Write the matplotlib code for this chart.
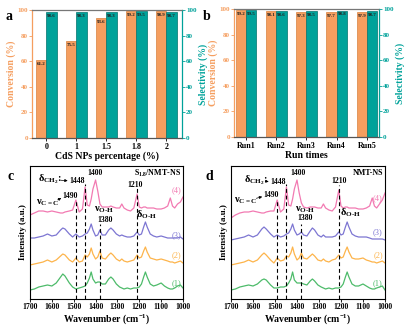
import matplotlib
matplotlib.use("Agg")
import matplotlib.pyplot as plt
import numpy as np

plt.rcParams['font.family'] = ['Liberation Serif', 'DejaVu Serif']
plt.rcParams['font.weight'] = 'bold'
plt.rcParams['mathtext.fontset'] = 'custom'
plt.rcParams['mathtext.rm'] = 'Liberation Serif:bold'
plt.rcParams['mathtext.it'] = 'Liberation Serif:bold'
plt.rcParams['mathtext.bf'] = 'Liberation Serif:bold'

# ---- bar chart data ----
cds_labels = ['0', '1', '1.5', '1.8', '2']
cds_conversion = [61.2, 75.5, 93.6, 99.2, 98.9]
cds_selectivity = [98.6, 98.3, 98.3, 99.5, 98.7]

run_labels = ['Run1', 'Run2', 'Run3', 'Run4', 'Run5']
run_conversion = [99.2, 98.1, 97.3, 97.7, 97.9]
run_selectivity = [99.5, 98.6, 98.5, 98.8, 98.7]

# ---- in situ IR spectra (offset traces) ----
wn = [1700, 1680, 1660, 1640, 1620, 1600, 1580, 1560, 1550, 1540, 1520, 1505,
      1490, 1475, 1460, 1448, 1438, 1428, 1420, 1412, 1400, 1390, 1380, 1370,
      1355, 1340, 1330, 1320, 1305, 1290, 1280, 1270, 1255, 1240, 1225, 1210,
      1200, 1190, 1180, 1172, 1164, 1150, 1135, 1120, 1100, 1085, 1070, 1058,
      1048, 1038, 1025, 1012, 1000]

c_trace1 = [9, 10, 12, 13, 14, 13, 16, 22, 25, 23, 16, 12, 10, 11, 12, 13, 16, 21,
            27, 20, 16, 17, 17, 15, 15, 20, 22, 20, 15, 12, 11, 10, 11, 10, 11, 11,
            12, 15, 22, 27, 22, 15, 13, 14, 16, 13, 11, 10, 10, 11, 13, 14, 11]
c_trace2 = [34, 35, 36, 37, 39, 37, 39, 43, 45, 44, 39, 37, 41, 37, 38, 44, 42, 45,
            51, 45, 40, 42, 48, 41, 40, 44, 46, 44, 40, 38, 40, 38, 37, 38, 39, 44,
            41, 42, 48, 52, 47, 41, 40, 39, 40, 39, 38, 37, 37, 36, 37, 38, 36]
c_trace3 = [61, 61, 62, 63, 65, 63, 64, 69, 71, 70, 65, 62, 65, 62, 63, 65, 66, 70,
            75, 69, 63, 64, 69, 64, 64, 69, 71, 69, 65, 63, 64, 63, 62, 62, 63, 67,
            64, 65, 72, 77, 72, 65, 63, 62, 63, 62, 61, 61, 61, 61, 61, 62, 60]
c_trace4 = [84, 86, 88, 88, 87, 88, 87, 86, 86, 87, 88, 89, 99, 87, 90, 112, 94, 93,
            100, 110, 119, 108, 95, 92, 92, 92, 93, 92, 91, 91, 95, 91, 89, 88, 91, 105,
            92, 91, 92, 92, 91, 91, 91, 90, 90, 91, 93, 101, 93, 91, 95, 97, 102]

d_trace1 = [9, 10, 12, 13, 14, 13, 15, 19, 20, 19, 14, 11, 11, 12, 12, 13, 16, 20,
            27, 19, 16, 16, 16, 15, 14, 18, 20, 18, 14, 12, 11, 10, 11, 10, 11, 11,
            12, 15, 22, 27, 22, 15, 13, 13, 15, 13, 11, 10, 10, 11, 12, 13, 9]
d_trace2 = [34, 35, 36, 37, 39, 37, 39, 44, 46, 44, 39, 36, 41, 38, 39, 43, 42, 46,
            52, 45, 39, 41, 46, 41, 40, 43, 45, 43, 39, 38, 40, 38, 37, 39, 40, 44,
            41, 42, 48, 52, 47, 41, 40, 40, 41, 39, 38, 37, 37, 36, 37, 38, 36]
d_trace3 = [59, 60, 61, 62, 64, 62, 64, 70, 72, 70, 65, 62, 64, 62, 63, 65, 66, 70,
            75, 69, 64, 65, 67, 64, 63, 68, 71, 69, 64, 62, 64, 62, 62, 62, 63, 67,
            64, 65, 72, 77, 72, 65, 63, 62, 62, 62, 61, 60, 60, 60, 60, 60, 59]
d_trace4 = [81, 84, 86, 87, 87, 88, 87, 86, 86, 87, 88, 88, 99, 87, 90, 112, 94, 93,
            100, 110, 119, 106, 96, 92, 91, 92, 92, 92, 91, 91, 95, 91, 89, 88, 92, 109,
            93, 91, 92, 92, 91, 91, 91, 90, 90, 91, 93, 101, 93, 91, 95, 99, 106]

marker_bands = [1490, 1448, 1380, 1210]

ORANGE = '#F59E5F'
ORANGE_EDGE = '#D9813F'
TEAL = '#00A29A'
TEAL_EDGE = '#00726C'
TRACE_COLORS = ['#4DBB6A', '#FDB44B', '#7D76D2', '#F27AB2']

W, H = 412, 326
fig = plt.figure(figsize=(W / 100, H / 100), dpi=100)


def fig_rect(l, t, r, b):
    return [l / W, 1 - b / H, (r - l) / W, (b - t) / H]


def bar_panel(rect, labels, conv, sel, xlabel, letter, lpos, xlim):
    ax = fig.add_axes(rect)
    x = np.arange(len(labels))
    bw = 0.34
    b1 = ax.bar(x - bw / 2, conv, bw, color=ORANGE, edgecolor=ORANGE_EDGE, lw=0.5, zorder=2)
    b2 = ax.bar(x + bw / 2, sel, bw, color=TEAL, edgecolor=TEAL_EDGE, lw=0.5, zorder=2)
    for bars, vals in ((b1, conv), (b2, sel)):
        for bar, v in zip(bars, vals):
            ax.text(bar.get_x() + bar.get_width() / 2, v - 1.5, f'{v}', ha='center',
                    va='top', fontsize=3.6, color='#222222', zorder=3)
    ax.set_ylim(0, 100)
    ax.set_xlim(*xlim)
    ax.set_xticks(x)
    ax.set_xticklabels(labels, fontsize=5.8, fontweight='bold')
    ax.set_yticks(np.arange(0, 101, 20))
    ax.tick_params(axis='y', colors=ORANGE, labelsize=5, length=2, width=0.6, pad=1)
    ax.tick_params(axis='x', length=2, width=0.6, pad=1.5)
    for t in ax.get_yticklabels():
        t.set_fontweight('bold')
    ax.set_xlabel(xlabel, fontsize=7, fontweight='bold', labelpad=0.5)
    ax.set_ylabel('Conversion (%)', fontsize=7, fontweight='bold', color=ORANGE, labelpad=1)
    ax.spines['left'].set_color(ORANGE)
    ax.spines['right'].set_color(TEAL)
    ax.spines['top'].set_color('#777777')
    ax.spines['bottom'].set_color('#555555')
    for s in ax.spines.values():
        s.set_linewidth(0.9)
    ax2 = ax.twinx()
    ax2.set_ylim(0, 100)
    ax2.set_yticks(np.arange(0, 101, 20))
    ax2.tick_params(axis='y', colors=TEAL, labelsize=5, length=2, width=0.6, pad=1)
    for t in ax2.get_yticklabels():
        t.set_fontweight('bold')
    ax2.set_ylabel('Selectivity (%)', fontsize=7, fontweight='bold', color=TEAL, labelpad=1)
    for s in ax2.spines.values():
        s.set_visible(False)
    fig.text(lpos[0] / W, 1 - lpos[1] / H, letter, fontsize=10, fontweight='bold',
             ha='left', va='center')
    return ax


bar_panel(fig_rect(32, 10, 182, 138), cds_labels, cds_conversion, cds_selectivity,
          'CdS NPs percentage (%)', 'a', (6, 17), (-0.48, 4.52))
bar_panel(fig_rect(234, 9, 379, 137), run_labels, run_conversion, run_selectivity,
          'Run times', 'b', (203, 17), (-0.4, 4.4))


def spectra_panel(rect, traces, tags, letter, lpos, title, title_right):
    ax = fig.add_axes(rect)
    for tr, col in zip(traces, TRACE_COLORS):
        ax.plot(wn, tr, color=col, lw=0.9)
    ax.set_xlim(1700, 1000)
    ax.set_ylim(0, 133)
    ax.set_xticks(np.arange(1700, 999, -100))
    ax.set_yticks([])
    ax.tick_params(axis='x', labelsize=5.6, length=2, width=0.6, pad=1)
    for t in ax.get_xticklabels():
        t.set_fontweight('bold')
    ax.set_xlabel('Wavenumber (cm$^{-1}$)', fontsize=7, fontweight='bold', labelpad=0.5)
    ax.set_ylabel('Intensity (a.u.)', fontsize=6.5, fontweight='bold', labelpad=2)
    for s in ax.spines.values():
        s.set_linewidth(0.8)
    tops = tags['tops']
    for band, top in zip(marker_bands, tops):
        ax.vlines(band, 0, top, colors='k', linestyles=(0, (3.5, 2.5)), lw=0.8)
    fs = 5.6
    for key, txt, big in (('d_ch2', r'$\delta_{\mathrm{CH_2}}$:', 7.5),
                          ('v_cc', r'$\nu_{\mathrm{C=C}}$', 7.5),
                          ('v_oh', r'$\nu_{\mathrm{O}\text{-}\mathrm{H}}$', 7.5),
                          ('d_oh', r'$\delta_{\mathrm{O}\text{-}\mathrm{H}}$', 7.5),
                          ('t1448', '1448', fs), ('t1400', '1400', fs),
                          ('t1490', '1490', fs), ('t1380', '1380', fs),
                          ('t1210', '1210', fs)):
        px, py = tags[key]
        ax.text(px, py, txt, fontsize=big, fontweight='bold', ha='center', va='center')
    ax.annotate('', xy=tags['arr1'][1], xytext=tags['arr1'][0],
                arrowprops=dict(arrowstyle='-|>', lw=0.5, color='k', mutation_scale=4))
    ax.annotate('', xy=tags['arr2'][1], xytext=tags['arr2'][0],
                arrowprops=dict(arrowstyle='-|>', lw=0.5, color='k', mutation_scale=4))
    ax.text(title_right, 126, title, fontsize=5.8, fontweight='bold', ha='right', va='center')
    for (py, lab), col in zip(tags['nums'], TRACE_COLORS):
        ax.text(tags['num_x'], py, lab, fontsize=6, color=col, ha='center', va='center',
                fontweight='normal')
    fig.text(lpos[0] / W, 1 - lpos[1] / H, letter, fontsize=10, fontweight='bold',
             ha='left', va='center')


spectra_panel(fig_rect(30, 166, 183, 299), [c_trace1, c_trace2, c_trace3, c_trace4],
              dict(tops=[98, 115, 75, 111],
                   d_ch2=(1608, 120), t1448=(1484, 118), t1400=(1403, 126),
                   t1490=(1517, 103), v_cc=(1622, 96), v_oh=(1361, 89),
                   t1380=(1357, 79), t1210=(1220, 114), d_oh=(1165, 84),
                   arr1=((1572, 119), (1515, 118)), arr2=((1585, 98), (1545, 102)),
                   nums=[(16, '(1)'), (44, '(2)'), (64, '(3)'), (109, '(4)')],
                   num_x=1032),
              'c', (7, 177), r'S$_{\mathrm{1.8}}$/NMT-NS', 1009)

spectra_panel(fig_rect(231, 166, 385, 299), [d_trace1, d_trace2, d_trace3, d_trace4],
              dict(tops=[98, 115, 75, 114],
                   d_ch2=(1586, 119), t1448=(1486, 117), t1400=(1395, 126),
                   t1490=(1518, 104), v_cc=(1632, 98), v_oh=(1364, 89),
                   t1380=(1364, 81), t1210=(1209, 118), d_oh=(1159, 86),
                   arr1=((1552, 118), (1516, 117)), arr2=((1597, 100), (1546, 103)),
                   nums=[(16, '(1)'), (44, '(2)'), (67, '(3)'), (101, '(4)')],
                   num_x=1032),
              'd', (206, 177), 'NMT-NS', 1009)

fig.savefig('out.png', dpi=100)
